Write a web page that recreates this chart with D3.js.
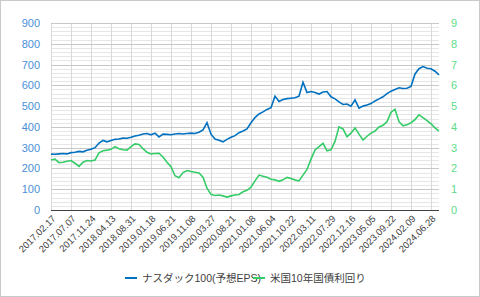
<!DOCTYPE html>
<html>
<head>
<meta charset="utf-8">
<script src="https://cdn.jsdelivr.net/npm/d3@7"></script>
<style>
  body { margin: 0; background: #fff; }
  text { font-family: "Liberation Sans", "Noto Sans CJK JP", sans-serif; }
</style>
</head>
<body>
<div id="chart"></div>
<script>
// x tick labels, one every 20 weeks
var tickLabels = ["2017.02.17","2017.07.07","2017.11.24","2018.04.13","2018.08.31",
  "2019.01.18","2019.06.21","2019.11.08","2020.03.27","2020.08.21","2021.01.08",
  "2021.06.04","2021.10.22","2022.03.11","2022.07.29","2022.12.16","2023.05.05",
  "2023.09.22","2024.02.09","2024.06.28"];

var epsValues = [269,268,270,272,270,276,278,282,280,288,292,300,322,335,328,334,340,342,346,345,
  350,356,360,366,368,362,370,352,365,364,362,366,368,366,368,370,368,374,385,420,
  365,342,336,328,340,350,358,372,380,390,420,445,462,472,484,492,548,522,532,536,
  538,540,548,615,565,570,566,558,568,570,545,535,520,508,510,500,530,490,500,505,
  512,525,535,545,560,572,580,588,585,586,595,655,680,690,682,680,668,650];

var yieldValues = [2.41,2.45,2.28,2.30,2.35,2.38,2.25,2.10,2.30,2.38,2.36,2.40,2.75,2.85,2.88,2.92,3.05,2.95,2.90,2.88,
  3.05,3.18,3.15,2.95,2.78,2.70,2.72,2.73,2.55,2.30,2.08,1.65,1.55,1.80,1.90,1.85,1.82,1.78,1.58,1.05,
  0.75,0.70,0.72,0.68,0.62,0.68,0.72,0.75,0.88,0.95,1.10,1.40,1.68,1.62,1.58,1.48,1.45,1.38,1.45,1.57,
  1.52,1.45,1.40,1.68,1.95,2.45,2.89,3.05,3.21,2.85,2.90,3.30,4.00,3.90,3.53,3.70,3.95,3.65,3.37,3.55,
  3.70,3.80,4.00,4.08,4.25,4.70,4.85,4.25,4.05,4.10,4.20,4.35,4.58,4.45,4.30,4.15,3.95,3.80];

var seriesNames = ["ナスダック100(予想EPS)", "米国10年国債利回り"];
var colors = ["#0070c0", "#33cc66"];

var W = 480, H = 297;
var margin = { top: 23, right: 41, bottom: 87, left: 51 };
var width = W - margin.left - margin.right,
    height = H - margin.top - margin.bottom;

var svg = d3.select("#chart").append("svg")
  .attr("width", W).attr("height", H);

// outer border
svg.append("rect")
  .attr("x", 0.5).attr("y", 0.5)
  .attr("width", W - 1).attr("height", H - 1)
  .attr("fill", "#fff").attr("stroke", "#c9c9c9");

var g = svg.append("g")
  .attr("transform", "translate(" + margin.left + "," + margin.top + ")");

var step = 4;
var x = d3.scaleLinear().domain([0, (epsValues.length - 1) * step]).range([0, width]);
var yL = d3.scaleLinear().domain([0, 900]).range([height, 0]);
var yR = d3.scaleLinear().domain([0, 9]).range([height, 0]);

// minor horizontal grid
g.append("g").selectAll("line")
  .data(d3.range(0, 901, 20).filter(function (d) { return d % 100 !== 0; }))
  .join("line")
  .attr("x1", 0).attr("x2", width)
  .attr("y1", function (d) { return Math.round(yL(d)) + 0.5; })
  .attr("y2", function (d) { return Math.round(yL(d)) + 0.5; })
  .attr("stroke", "#e6e6e6");

// vertical grid
g.append("g").selectAll("line")
  .data(tickLabels)
  .join("line")
  .attr("x1", function (d, i) { return Math.round(x(i * 20)) + 0.5; })
  .attr("x2", function (d, i) { return Math.round(x(i * 20)) + 0.5; })
  .attr("y1", 0).attr("y2", height)
  .attr("stroke", "#d9d9d9");

// major horizontal grid
g.append("g").selectAll("line")
  .data(d3.range(100, 901, 100))
  .join("line")
  .attr("x1", 0).attr("x2", width)
  .attr("y1", function (d) { return Math.round(yL(d)) + 0.5; })
  .attr("y2", function (d) { return Math.round(yL(d)) + 0.5; })
  .attr("stroke", "#c8c8c8");

// left axis
var leftAxis = g.append("g")
  .call(d3.axisLeft(yL).tickValues(d3.range(0, 901, 100)).tickSize(0).tickPadding(11));
leftAxis.select(".domain").remove();
leftAxis.selectAll("text").attr("fill", "#4a90d9").style("font-size", "11px");

// right axis
var rightAxis = g.append("g")
  .attr("transform", "translate(" + width + ",0)")
  .call(d3.axisRight(yR).tickValues(d3.range(0, 10, 1)).tickSize(0).tickPadding(12));
rightAxis.select(".domain").remove();
rightAxis.selectAll("text").attr("fill", "#5edc8a").style("font-size", "11px");

// bottom axis line
g.append("line")
  .attr("x1", 0).attr("x2", width)
  .attr("y1", height + 0.5).attr("y2", height + 0.5)
  .attr("stroke", "#404040").attr("stroke-width", 1.2);

// x labels
g.append("g").selectAll("text")
  .data(tickLabels)
  .join("text")
  .attr("transform", function (d, i) {
    return "translate(" + (x(i * 20) + 3) + "," + (height + 7) + ") rotate(-45)";
  })
  .attr("text-anchor", "end")
  .attr("dy", "0.35em")
  .attr("fill", "#404040")
  .style("font-size", "9.5px")
  .text(function (d) { return d; });

// lines
var lineL = d3.line()
  .x(function (d, i) { return x(i * step); })
  .y(function (d) { return yL(d); });
var lineR = d3.line()
  .x(function (d, i) { return x(i * step); })
  .y(function (d) { return yR(d); });

g.append("path").datum(yieldValues)
  .attr("d", lineR).attr("fill", "none")
  .attr("stroke", colors[1]).attr("stroke-width", 1.6);
g.append("path").datum(epsValues)
  .attr("d", lineL).attr("fill", "none")
  .attr("stroke", colors[0]).attr("stroke-width", 1.6);

// legend
var legendX = [125, 253];
var legend = svg.append("g").selectAll("g")
  .data(seriesNames)
  .join("g")
  .attr("transform", function (d, i) { return "translate(" + legendX[i] + ",278)"; });
legend.append("line")
  .attr("x1", 0).attr("x2", 12)
  .attr("stroke", function (d, i) { return colors[i]; })
  .attr("stroke-width", 2);
legend.append("text")
  .attr("x", 17).attr("dy", "0.35em")
  .attr("fill", "#404040")
  .style("font-size", "10.5px")
  .text(function (d) { return d; });
</script>
</body>
</html>
